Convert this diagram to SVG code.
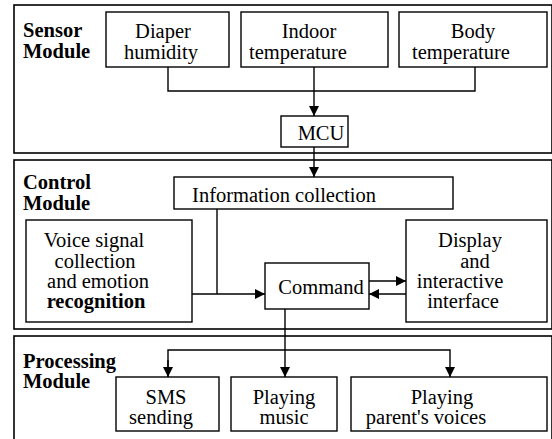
<svg xmlns="http://www.w3.org/2000/svg" width="552" height="439" viewBox="0 0 552 439">
<defs>
<marker id="ah" viewBox="0 0 10 10" refX="10" refY="5" markerWidth="10" markerHeight="10" markerUnits="userSpaceOnUse" orient="auto">
<path d="M0,0 L10,5 L0,10 Z" fill="#000"/>
</marker>
<style>
.outer{fill:none;stroke:#000;stroke-width:1.6}
.box{fill:#fff;stroke:#000;stroke-width:1.4}
text{font-family:"Liberation Serif","Times New Roman",serif;font-size:20.5px;fill:#000}
.t{text-anchor:middle}
.lb{font-weight:bold}
.c{fill:none;stroke:#000;stroke-width:1.4}
</style>
</defs>
<rect width="552" height="439" fill="#fff"/>
<g id="sensor-module">
<rect class="outer" x="14" y="5" width="538" height="148"/>
<text class="lb" x="23" y="37">Sensor</text>
<text class="lb" x="23" y="58">Module</text>
</g>
<g id="control-module">
<rect class="outer" x="14" y="160" width="538" height="169"/>
<text class="lb" x="23" y="189">Control</text>
<text class="lb" x="23" y="210">Module</text>
</g>
<g id="processing-module">
<rect class="outer" x="14" y="336" width="538" height="110"/>
<text class="lb" x="23" y="368">Processing</text>
<text class="lb" x="23" y="388">Module</text>
</g>
<g id="connectors">
<path class="c" d="M168,67 V91 H475 V67"/>
<path class="c" d="M314,67 V116" marker-end="url(#ah)"/>
<path class="c" d="M314,147 V177" marker-end="url(#ah)"/>
<path class="c" d="M217,209 V294"/>
<path class="c" d="M192,294 H265" marker-end="url(#ah)"/>
<path class="c" d="M369,281 H406" marker-end="url(#ah)"/>
<path class="c" d="M406,294 H369" marker-end="url(#ah)"/>
<path class="c" d="M285,309 V377" marker-end="url(#ah)"/>
<path class="c" d="M168,377 V350 H450 V377" marker-end="url(#ah)"/>
<path class="c" d="M168,360 V377" marker-end="url(#ah)"/>
</g>
<g id="diaper">
<rect class="box" x="106" y="12" width="123" height="55"/>
<text class="t" x="163" y="38">Diaper</text>
<text class="t" x="161" y="59">humidity</text>
</g>
<g id="indoor">
<rect class="box" x="241" y="12" width="147" height="55"/>
<text class="t" x="309" y="38">Indoor</text>
<text class="t" x="298" y="59">temperature</text>
</g>
<g id="body">
<rect class="box" x="399" y="12" width="148" height="55"/>
<text class="t" x="473" y="38">Body</text>
<text class="t" x="461" y="59">temperature</text>
</g>
<g id="mcu">
<rect class="box" x="281" y="116" width="67" height="31"/>
<text class="t" x="321" y="140">MCU</text>
</g>
<g id="info">
<rect class="box" x="174" y="177" width="279" height="32"/>
<text class="t" x="284" y="202">Information collection</text>
</g>
<g id="voice">
<rect class="box" x="26" y="220" width="166" height="102"/>
<text class="t" x="94" y="247">Voice signal</text>
<text class="t" x="95" y="268">collection</text>
<text class="t" x="98" y="288">and emotion</text>
<text class="t lb" x="96" y="308">recognition</text>
</g>
<g id="command">
<rect class="box" x="265" y="263" width="104" height="46"/>
<text class="t" x="321" y="294">Command</text>
</g>
<g id="display">
<rect class="box" x="406" y="220" width="141" height="102"/>
<text class="t" x="470" y="247">Display</text>
<text class="t" x="475" y="268">and</text>
<text class="t" x="460" y="288">interactive</text>
<text class="t" x="463" y="308">interface</text>
</g>
<g id="sms">
<rect class="box" x="116" y="377" width="103" height="54"/>
<text class="t" x="166" y="404">SMS</text>
<text class="t" x="161" y="424">sending</text>
</g>
<g id="music">
<rect class="box" x="231" y="377" width="106" height="54"/>
<text class="t" x="284" y="404">Playing</text>
<text class="t" x="284" y="424">music</text>
</g>
<g id="voices">
<rect class="box" x="351" y="377" width="196" height="54"/>
<text class="t" x="442" y="404">Playing</text>
<text class="t" x="426" y="424">parent's voices</text>
</g>
</svg>
